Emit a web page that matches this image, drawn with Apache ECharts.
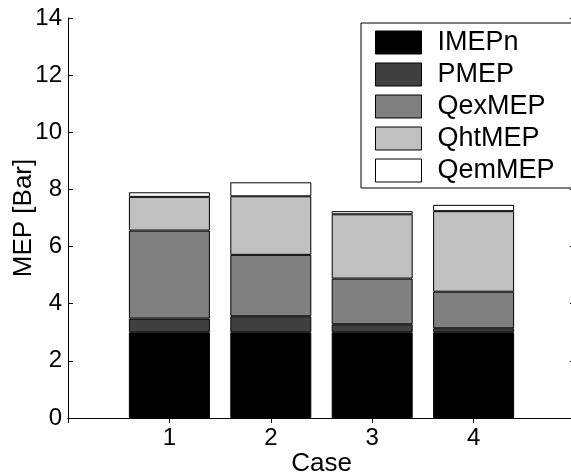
<!DOCTYPE html>
<html>
<head>
<meta charset="utf-8">
<script src="https://cdn.jsdelivr.net/npm/echarts@6/dist/echarts.min.js"></script>
<style>html,body{margin:0;padding:0;background:#fff}#c{width:571px;height:476px}</style>
</head>
<body>
<div id="c"></div>
<script>
var caseLabels = ['1', '2', '3', '4'];
var seriesNames = ['IMEPn', 'PMEP', 'QexMEP', 'QhtMEP', 'QemMEP'];
var IMEPn  = [3.00, 3.00, 3.00, 3.00];
var PMEP   = [0.48, 0.56, 0.28, 0.14];
var QexMEP = [3.08, 2.15, 1.60, 1.28];
var QhtMEP = [1.18, 2.05, 2.25, 2.82];
var QemMEP = [0.16, 0.49, 0.11, 0.22];
var yTicks = [0, 2, 4, 6, 8, 10, 12, 14];
var colors = ['#000000', '#404040', '#808080', '#c0c0c0', '#ffffff'];

var values = [IMEPn, PMEP, QexMEP, QhtMEP, QemMEP];
var FONT = '"Liberation Sans", Arial, Helvetica, sans-serif';
// axis runs 0..5 like the original; cases sit at positions 1..4
var axisCats = [''].concat(caseLabels).concat(['']);

var series = seriesNames.map(function (name, i) {
  return {
    name: name,
    type: 'bar',
    stack: 'mep',
    barWidth: 81,
    data: ['-'].concat(values[i]).concat(['-']),
    itemStyle: { color: colors[i], borderColor: '#000', borderWidth: 1 },
    emphasis: { disabled: true },
    animation: false
  };
});

var axisCommon = {
  nameMoveOverlap: false,
  axisLine: { show: true, lineStyle: { color: '#000', width: 1 } },
  axisTick: { show: true, inside: true, length: 5, lineStyle: { color: '#000' } },
  splitLine: { show: false }
};

var chart = echarts.init(document.getElementById('c'), null, { renderer: 'canvas' });
chart.setOption({
  backgroundColor: '#fff',
  animation: false,
  textStyle: { fontFamily: FONT },
  grid: { left: 68, top: 18, width: 507, height: 400, containLabel: false, outerBoundsMode: 'none' },
  legend: {
    data: seriesNames,
    orient: 'vertical',
    left: 361, top: 23,
    padding: [6, 26, 4, 14],
    itemWidth: 46, itemHeight: 23, itemGap: 5,
    icon: 'rect',
    backgroundColor: '#fff',
    borderColor: '#000', borderWidth: 1,
    textStyle: { fontFamily: FONT, fontSize: 27, color: '#000', padding: [0, 0, 0, 11] },
    itemStyle: { borderColor: '#000', borderWidth: 1 },
    selectedMode: false
  },
  xAxis: [Object.assign({
    type: 'category', data: axisCats, boundaryGap: false,
    name: 'Case', nameLocation: 'middle', nameGap: 33,
    nameTextStyle: { fontFamily: FONT, fontSize: 26, color: '#000' },
    axisLabel: { fontFamily: FONT, fontSize: 24, color: '#000', margin: 8, interval: 0 }
  }, axisCommon), Object.assign({
    type: 'category', data: axisCats, boundaryGap: false, position: 'top',
    axisLabel: { show: false }
  }, axisCommon)],
  yAxis: [Object.assign({
    type: 'value', min: 0, max: 14, interval: 2,
    name: 'MEP [Bar]', nameLocation: 'middle', nameGap: 31,
    nameTextStyle: { fontFamily: FONT, fontSize: 26, color: '#000' },
    axisLabel: {
      fontFamily: FONT, fontSize: 24, color: '#000', margin: 6,
      formatter: function (v) { return yTicks.indexOf(v) >= 0 ? String(v) : ''; }
    }
  }, axisCommon), Object.assign({
    type: 'value', min: 0, max: 14, interval: 2, position: 'right',
    axisLabel: { show: false }
  }, axisCommon)],
  series: series
});
</script>
</body>
</html>
